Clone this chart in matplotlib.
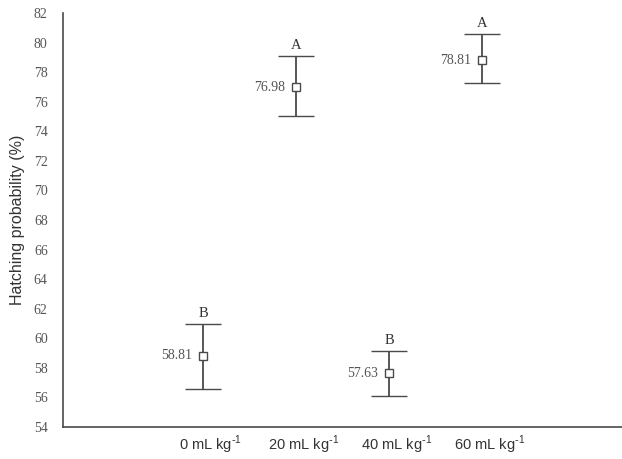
import matplotlib
matplotlib.use("Agg")
import matplotlib.pyplot as plt

categories = ["0 mL kg", "20 mL kg", "40 mL kg", "60 mL kg"]
unit_exp = "-1"
means = [58.81, 76.98, 57.63, 78.81]
upper = [60.96, 79.08, 59.14, 80.55]
lower = [56.57, 75.05, 56.07, 77.28]
letters = ["B", "A", "B", "A"]
yticks = list(range(54, 84, 2))

line_col = "#4a4a4a"
text_col = "#555555"
sans = ["Liberation Sans", "DejaVu Sans"]

fig = plt.figure(figsize=(6.22, 4.59), dpi=100)
ax = fig.add_axes([63/622, 1 - 427/459, 1 - 63/622, 414/459])

x = list(range(len(means)))
yerr = [[m - l for m, l in zip(means, lower)], [u - m for m, u in zip(means, upper)]]
ax.errorbar(x, means, yerr=yerr, fmt="s", color=line_col, ecolor=line_col,
            elinewidth=1.3, capsize=13, capthick=1.3, markersize=5.5,
            markerfacecolor="white", markeredgecolor=line_col, markeredgewidth=1.0)

for xi, m, u, lt in zip(x, means, upper, letters):
    ax.annotate(f"{m:.2f}", (xi, m), xytext=(-8, 0), textcoords="offset points",
                ha="right", va="center", fontsize=10, family="Liberation Serif", color=text_col)
    ax.annotate(lt, (xi, u), xytext=(0, 3), textcoords="offset points",
                ha="center", va="bottom", fontsize=10.5, family="Liberation Serif",
                color="#333333")

ax.set_xlim(-1.504, 4.5)
ax.set_ylim(54, 82)
ax.set_yticks(yticks)
ax.set_yticklabels([str(t) for t in yticks], family="Liberation Serif", fontsize=10, color=text_col)

ax.set_xticks([i + 0.08 for i in x])
ax.set_xticklabels([c + r"$^{\mathregular{" + unit_exp.replace("-", r"\text{-}") + "}}$" for c in categories],
                   family=sans, fontsize=10.5, color="#333333")
ax.tick_params(axis="both", length=0)
ax.tick_params(axis="y", pad=11)
ax.tick_params(axis="x", pad=5)

ax.set_ylabel("Hatching probability (%)", family=sans, fontsize=11.5, color="#333333")
ax.yaxis.set_label_coords(-0.068, 0.5)

for s in ["top", "right"]:
    ax.spines[s].set_visible(False)
for s in ["left", "bottom"]:
    ax.spines[s].set_color(line_col)
    ax.spines[s].set_linewidth(1.2)

fig.savefig("out.png", dpi=100)
